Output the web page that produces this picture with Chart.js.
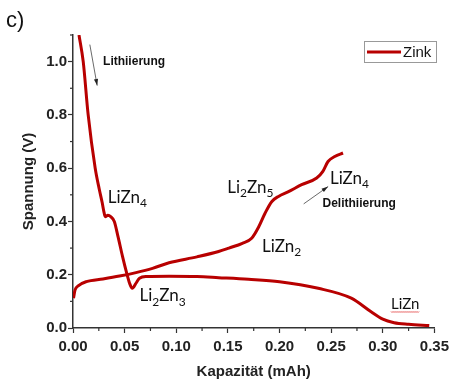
<!DOCTYPE html>
<html>
<head>
<meta charset="utf-8">
<script src="https://cdn.jsdelivr.net/npm/chart.js@4.4.1/dist/chart.umd.min.js"></script>
<style>
  html, body { margin: 0; padding: 0; background: #fff; }
  #wrap { width: 454px; height: 381px; }
</style>
</head>
<body>
<div id="wrap"><canvas id="chart" width="454" height="381"></canvas></div>
<script>
// Lithiierung (Entladung)
const lithX = [0.0058, 0.0099, 0.0147, 0.0215, 0.0255, 0.0283, 0.0300, 0.0312, 0.0338, 0.0365, 0.040, 0.0436, 0.048, 0.052, 0.0548, 0.0574, 0.061, 0.0644, 0.071, 0.093, 0.12, 0.141, 0.17, 0.20, 0.2375, 0.2695, 0.2887, 0.30, 0.311, 0.325, 0.345];
const lithY = [1.10, 1.00, 0.80, 0.60, 0.52, 0.47, 0.435, 0.418, 0.423, 0.418, 0.400, 0.343, 0.268, 0.206, 0.168, 0.149, 0.168, 0.187, 0.193, 0.194, 0.193, 0.189, 0.183, 0.174, 0.149, 0.112, 0.061, 0.033, 0.020, 0.014, 0.009];

// Delithiierung (Ladung)
const delithX = [0.0005, 0.002, 0.005, 0.013, 0.029, 0.045, 0.061, 0.077, 0.093, 0.12, 0.141, 0.151, 0.164, 0.173, 0.180, 0.186, 0.1926, 0.199, 0.2087, 0.2214, 0.236, 0.242, 0.247, 0.2535, 0.2615];
const delithY = [0.112, 0.143, 0.158, 0.174, 0.184, 0.195, 0.208, 0.224, 0.245, 0.267, 0.287, 0.300, 0.318, 0.337, 0.381, 0.431, 0.475, 0.494, 0.512, 0.538, 0.563, 0.588, 0.625, 0.644, 0.657];

const xTicks = [0, 0.05, 0.10, 0.15, 0.20, 0.25, 0.30, 0.35];
const yTicks = [0, 0.2, 0.4, 0.6, 0.8, 1.0];
const seriesName = 'Zink';

const RED = '#b80000';
const AXIS = '#333333';
const toPts = (xs, ys) => xs.map((x, i) => ({ x: x, y: ys[i] }));

// phase labels, placed in data units: [parts, x, y, size]
const phaseLabels = [
  [[['LiZn', 0], ['4', 1]], 0.0337, 0.469, 17],
  [[['Li', 0], ['2', 1], ['Zn', 0], ['3', 1]], 0.0644, 0.100, 17],
  [[['Li', 0], ['2', 1], ['Zn', 0], ['5', 1]], 0.1493, 0.506, 17],
  [[['LiZn', 0], ['2', 1]], 0.183, 0.287, 17],
  [[['LiZn', 0], ['4', 1]], 0.2488, 0.540, 17],
  [[['LiZn', 0]], 0.308, 0.0714, 15]
];

function drawChem(ctx, parts, x, y, size) {
  let cx = x;
  parts.forEach(p => {
    const sub = p[1] === 1;
    ctx.font = (sub ? Math.round(size * 0.72) : size) + 'px Lato';
    ctx.fillText(p[0], cx, sub ? y + size * 0.25 : y);
    cx += ctx.measureText(p[0]).width;
  });
  return cx;
}

function arrow(ctx, x1, y1, x2, y2) {
  const a = Math.atan2(y2 - y1, x2 - x1);
  ctx.strokeStyle = '#444';
  ctx.fillStyle = '#222';
  ctx.lineWidth = 0.8;
  ctx.beginPath();
  ctx.moveTo(x1, y1);
  ctx.lineTo(x2, y2);
  ctx.stroke();
  ctx.beginPath();
  ctx.moveTo(x2, y2);
  ctx.lineTo(x2 - 7 * Math.cos(a - 0.3), y2 - 7 * Math.sin(a - 0.3));
  ctx.lineTo(x2 - 7 * Math.cos(a + 0.3), y2 - 7 * Math.sin(a + 0.3));
  ctx.closePath();
  ctx.fill();
}

const extras = {
  id: 'extras',
  afterDraw(chart) {
    const ctx = chart.ctx;
    const xs = chart.scales.x, ys = chart.scales.y;
    const bottom = chart.chartArea.bottom, left = chart.chartArea.left;
    ctx.save();

    // minor ticks
    ctx.strokeStyle = AXIS;
    ctx.lineWidth = 1.2;
    for (let v = 0.025; v < 0.35; v += 0.05) {
      const px = xs.getPixelForValue(v);
      ctx.beginPath(); ctx.moveTo(px, bottom); ctx.lineTo(px, bottom + 3); ctx.stroke();
    }
    for (let v = 0.1; v < 1.1; v += 0.2) {
      const py = ys.getPixelForValue(v);
      ctx.beginPath(); ctx.moveTo(left, py); ctx.lineTo(left - 3, py); ctx.stroke();
    }

    // panel letter
    ctx.fillStyle = '#111';
    ctx.font = '22px "Liberation Sans", Arial';
    ctx.textBaseline = 'alphabetic';
    ctx.fillText('c)', 6, 27);

    // phase labels
    ctx.fillStyle = '#111';
    phaseLabels.forEach(l => {
      const px = xs.getPixelForValue(l[1]), py = ys.getPixelForValue(l[2]);
      const end = drawChem(ctx, l[0], px, py, l[3]);
      if (l[0].length === 1) {
        // spell-check squiggle under LiZn
        ctx.strokeStyle = '#e03030';
        ctx.lineWidth = 0.8;
        ctx.beginPath();
        for (let x = px; x <= end; x += 1) {
          const yy = py + 2.5 + ((Math.round(x - px) % 2) ? 1 : 0);
          if (x === px) ctx.moveTo(x, yy); else ctx.lineTo(x, yy);
        }
        ctx.stroke();
      }
    });

    // direction notes
    ctx.fillStyle = '#111';
    ctx.font = 'bold 12px "Liberation Sans", Arial';
    ctx.fillText('Lithiierung', xs.getPixelForValue(0.0291), ys.getPixelForValue(0.989));
    ctx.fillText('Delithiierung', xs.getPixelForValue(0.2416), ys.getPixelForValue(0.456));
    arrow(ctx, xs.getPixelForValue(0.0163), ys.getPixelForValue(1.064),
               xs.getPixelForValue(0.0234), ys.getPixelForValue(0.910));
    arrow(ctx, xs.getPixelForValue(0.2234), ys.getPixelForValue(0.466),
               xs.getPixelForValue(0.2471), ys.getPixelForValue(0.531));

    // legend box
    ctx.strokeStyle = '#999';
    ctx.lineWidth = 1;
    ctx.strokeRect(364.5, 41.5, 72, 21);
    ctx.strokeStyle = RED;
    ctx.lineWidth = 3;
    ctx.beginPath(); ctx.moveTo(367, 52); ctx.lineTo(401, 52); ctx.stroke();
    ctx.fillStyle = '#111';
    ctx.font = '15px "Liberation Sans", Arial';
    ctx.fillText(seriesName, 403, 57);

    ctx.restore();
  }
};

const ctx = document.getElementById('chart').getContext('2d');
const chart = new Chart(ctx, {
  type: 'line',
  data: {
    datasets: [{
      label: seriesName,
      data: toPts(lithX, lithY),
      borderColor: RED,
      borderWidth: 3,
      pointRadius: 0,
      cubicInterpolationMode: 'monotone'
    }, {
      label: seriesName,
      data: toPts(delithX, delithY),
      borderColor: RED,
      borderWidth: 3,
      pointRadius: 0,
      cubicInterpolationMode: 'monotone'
    }]
  },
  options: {
    responsive: false,
    animation: false,
    layout: { padding: { top: 35, right: 17, left: 0, bottom: 0 } },
    plugins: {
      legend: { display: false },
      tooltip: { enabled: false }
    },
    scales: {
      x: {
        type: 'linear',
        min: 0,
        max: 0.35,
        afterFit: s => { s.height = 53; },
        afterBuildTicks: s => { s.ticks = xTicks.map(v => ({ value: v })); },
        ticks: {
          padding: 5,
          color: '#222',
          font: { family: '"Liberation Sans", Arial', size: 15, weight: 'bold' },
          callback: v => v.toFixed(2),
          maxRotation: 0,
          autoSkip: false
        },
        grid: { drawOnChartArea: false, tickLength: 5, tickColor: AXIS, tickWidth: 1.2 },
        border: { color: AXIS, width: 1.5 },
        title: {
          display: true,
          text: 'Kapazität (mAh)',
          color: '#222',
          font: { family: '"Liberation Sans", Arial', size: 15, weight: 'bold' },
          padding: { top: 0, bottom: 0 }
        }
      },
      y: {
        min: 0,
        max: 1.1,
        afterFit: s => { s.width = 73; },
        afterBuildTicks: s => { s.ticks = yTicks.map(v => ({ value: v })); },
        ticks: {
          padding: 1,
          color: '#222',
          font: { family: '"Liberation Sans", Arial', size: 15, weight: 'bold' },
          callback: v => v.toFixed(1),
          autoSkip: false
        },
        grid: { drawOnChartArea: false, tickLength: 5, tickColor: AXIS, tickWidth: 1.2 },
        border: { color: AXIS, width: 1.5 },
        title: {
          display: true,
          text: 'Spannung (V)',
          color: '#222',
          font: { family: '"Liberation Sans", Arial', size: 15, weight: 'bold' },
          padding: { top: 20, bottom: 0 }
        }
      }
    }
  },
  plugins: [extras]
});
</script>
</body>
</html>
